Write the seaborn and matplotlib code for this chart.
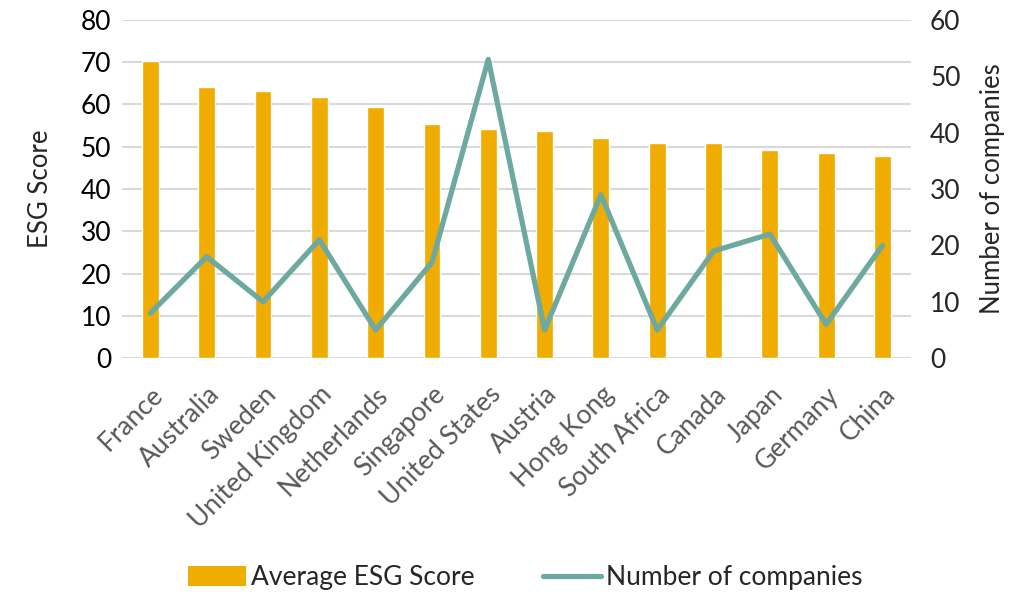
import matplotlib
matplotlib.use("Agg")
import matplotlib.pyplot as plt
import seaborn as sns
import pandas as pd
from matplotlib.patches import Patch
from matplotlib.lines import Line2D

countries = ["France", "Australia", "Sweden", "United Kingdom", "Netherlands",
             "Singapore", "United States", "Austria", "Hong Kong", "South Africa",
             "Canada", "Japan", "Germany", "China"]
avg_esg_score = [70.3, 64.2, 63.2, 61.7, 59.5, 55.4, 54.3, 53.7, 52.1, 50.8,
                 50.8, 49.2, 48.5, 47.8]
num_companies = [8, 18, 10, 21, 5, 17, 53, 5, 29, 5, 19, 22, 6, 20]

left_ticks = [0, 10, 20, 30, 40, 50, 60, 70, 80]
right_ticks = [0, 10, 20, 30, 40, 50, 60]

bar_color = "#F0AC00"
line_color = "#6DA9A0"
grid_color = "#D9D9D9"

sns.set_theme(style="white")
plt.rcParams["font.family"] = ["Lato", "DejaVu Sans"]

df = pd.DataFrame({"country": countries, "score": avg_esg_score,
                   "companies": num_companies})

fig = plt.figure(figsize=(10.36, 6.03), dpi=100)
ax = fig.add_axes([0.118, 0.406, 0.761, 0.561])

sns.barplot(data=df, x="country", y="score", color=bar_color, width=0.3,
            saturation=1, ax=ax, zorder=2)
ax.set_ylim(0, 80)
ax.set_yticks(left_ticks)
ax.set_xlim(-0.5, len(countries) - 0.5)
ax.yaxis.grid(True, color=grid_color, linewidth=1.5, zorder=0)
ax.set_axisbelow(True)
for s in ax.spines.values():
    s.set_visible(False)
ax.tick_params(axis="y", labelsize=19, length=0, pad=8, labelcolor="#000000")
ax.tick_params(axis="x", length=0, pad=17)
ax.set_xlabel("")
ax.set_ylabel("ESG Score", fontsize=18.5, labelpad=20)
ax.set_xticks(range(len(countries)))
ax.set_xticklabels(countries, rotation=45, ha="right", rotation_mode="anchor",
                   fontsize=19, color="#595959")

ax2 = ax.twinx()
sns.lineplot(data=df, x="country", y="companies", color=line_color,
             linewidth=3.8, ax=ax2, sort=False, zorder=3)
ax2.set_ylim(0, 60)
ax2.set_yticks(right_ticks)
for s in ax2.spines.values():
    s.set_visible(False)
ax2.tick_params(axis="y", labelsize=19, length=0, pad=14)
ax2.set_ylabel("Number of companies", fontsize=18.5, labelpad=14)
ax2.grid(False)

handles = [Patch(facecolor=bar_color, edgecolor="none"),
           Line2D([0], [0], color=line_color, linewidth=3.8)]
fig.legend(handles, ["Average ESG Score", "Number of companies"],
           loc="lower center", bbox_to_anchor=(0.507, -0.018), ncol=2,
           frameon=False, fontsize=19, handlelength=2.2, handleheight=0.75,
           handletextpad=0.2, columnspacing=2.6)

fig.savefig("out.png", dpi=100)
